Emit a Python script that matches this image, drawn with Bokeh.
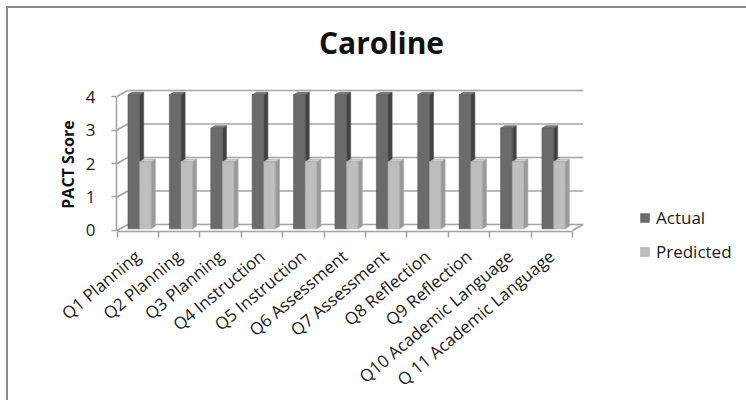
import numpy as np
from bokeh.plotting import figure
from bokeh.models import Range1d, FixedTicker, Label, Legend, LegendItem
from bokeh.embed import file_html
from bokeh.resources import INLINE

# ---------------- data ----------------
categories = ["Q1 Planning", "Q2 Planning", "Q3 Planning", "Q4 Instruction",
              "Q5 Instruction", "Q6 Assessment", "Q7 Assessment", "Q8 Reflection",
              "Q9 Reflection", "Q10 Academic Language", "Q 11 Academic Language"]
actual = [4, 4, 3, 4, 4, 4, 4, 4, 4, 3, 3]
predicted = [2, 2, 2, 2, 2, 2, 2, 2, 2, 2, 2]
y_ticks = [0, 1, 2, 3, 4]
series_names = ["Actual", "Predicted"]
title_text = "Caroline"
y_title = "PACT Score"

# ---------------- style ----------------
FONT = "Open Sans"
BAR_W = 0.28          # bar width (category units)
ACT_OFF = 0.265       # offset of first bar inside category
DEPTH_X, DEPTH_Y = 0.10, 0.075   # bar depth
WALL_X, WALL_Y = 0.26, 0.18      # chart wall depth
LIFT = 0.05
GRID = "#a3a3a3"
ACT_FRONT, ACT_SIDE, ACT_TOP, ACT_EDGE = "#6b6b6b", "#424242", "#7a7a7a", "#555555"
PRED_FRONT, PRED_SIDE, PRED_TOP, PRED_EDGE = "#bebebe", "#9a9a9a", "#cfcfcf", "#a5a5a5"

n = len(categories)
idx = np.arange(n)

p = figure(width=746, height=400, output_backend="svg", toolbar_location=None,
           x_range=Range1d(-2.814, 15.205), y_range=Range1d(-5.075, 6.866),
           min_border_left=0, min_border_right=0, min_border_top=0,
           min_border_bottom=0, outline_line_color=None,
           background_fill_color=None, border_fill_color=None)
p.xgrid.visible = False
p.ygrid.visible = False
p.styles = {"box-shadow": "inset 6px 6px 0 0 #ffffff, inset 8px 8px 0 0 #8c8c8c"}

# ---------------- walls / floor ----------------
top_tick = max(y_ticks)
p.segment(x0=[WALL_X] * len(y_ticks), y0=[k + WALL_Y for k in y_ticks],
          x1=[n + WALL_X] * len(y_ticks), y1=[k + WALL_Y for k in y_ticks],
          line_color=GRID, line_width=1.6)
p.segment(x0=[0] * len(y_ticks), y0=y_ticks,
          x1=[WALL_X] * len(y_ticks), y1=[k + WALL_Y for k in y_ticks],
          line_color=GRID, line_width=1.6)
p.segment(x0=[n], y0=[0], x1=[n + WALL_X], y1=[WALL_Y], line_color=GRID, line_width=1.6)


# ---------------- bars ----------------
def bar3d(left, vals, front, side, top, edge):
    right = left + BAR_W
    b = np.full(n, LIFT)
    t = np.asarray(vals, dtype=float) + LIFT
    xs_side = [[r, r + DEPTH_X, r + DEPTH_X, r] for r in right]
    ys_side = [[bb, bb + DEPTH_Y, tt + DEPTH_Y, tt] for bb, tt in zip(b, t)]
    p.patches(xs_side, ys_side, fill_color=side, line_color=edge, line_width=0.6)
    xs_top = [[l, l + DEPTH_X, r + DEPTH_X, r] for l, r in zip(left, right)]
    ys_top = [[tt, tt + DEPTH_Y, tt + DEPTH_Y, tt] for tt in t]
    p.patches(xs_top, ys_top, fill_color=top, line_color=edge, line_width=0.6)
    return p.quad(left=left, right=right, bottom=b, top=t,
                  fill_color=front, line_color=edge, line_width=0.6)


act_left = idx + ACT_OFF
pred_left = act_left + BAR_W
r_act = bar3d(act_left, actual, ACT_FRONT, ACT_SIDE, ACT_TOP, ACT_EDGE)
r_pred = bar3d(pred_left, predicted, PRED_FRONT, PRED_SIDE, PRED_TOP, PRED_EDGE)

# ---------------- axes ----------------
xa = p.xaxis[0]
xa.fixed_location = -0.03
xa.ticker = FixedTicker(ticks=list(idx + 0.5), minor_ticks=list(range(n + 1)))
xa.major_label_overrides = {float(i + 0.5): c for i, c in enumerate(categories)}
xa.bounds = (0, n)
xa.axis_line_color = GRID
xa.axis_line_width = 1.6
xa.major_tick_line_color = None
xa.major_tick_out = 0
xa.major_tick_in = 0
xa.minor_tick_out = 6
xa.minor_tick_in = 0
xa.minor_tick_line_color = GRID
xa.minor_tick_line_width = 1.6
xa.major_label_orientation = 0.7
xa.major_label_standoff = 16
xa.major_label_text_font = FONT
xa.major_label_text_font_size = "17px"
xa.major_label_text_color = "#1a1a1a"

ya = p.yaxis[0]
ya.fixed_location = -0.012
ya.ticker = FixedTicker(ticks=y_ticks, minor_ticks=[])
ya.bounds = (0, top_tick)
ya.axis_line_color = GRID
ya.axis_line_width = 1.6
ya.major_tick_line_color = GRID
ya.major_tick_line_width = 1.6
ya.major_tick_out = 5
ya.major_tick_in = 0
ya.major_label_standoff = 16
ya.major_label_text_font = FONT
ya.major_label_text_font_size = "17px"
ya.major_label_text_color = "#1a1a1a"

# y-axis title (placed beside the axis span)
p.add_layout(Label(x=67, y=236, x_units="screen", y_units="screen", text=y_title,
                   angle=np.pi / 2, text_align="center", text_baseline="middle",
                   text_font=FONT, text_font_style="bold", text_font_size="16px",
                   text_color="#111111"))

# ---------------- title ----------------
p.add_layout(Label(x=381, y=358, x_units="screen", y_units="screen", text=title_text,
                   text_align="center", text_baseline="alphabetic", text_font=FONT,
                   text_font_style="bold", text_font_size="30px", text_color="#111111"))

# ---------------- legend ----------------
legend = Legend(items=[LegendItem(label=series_names[0], renderers=[r_act]),
                       LegendItem(label=series_names[1], renderers=[r_pred])],
                location=(639, 137), orientation="vertical",
                glyph_width=11, glyph_height=11, label_height=22, spacing=11,
                label_standoff=6, padding=0, margin=0,
                border_line_color=None, background_fill_alpha=0,
                label_text_font=FONT, label_text_font_size="17px",
                label_text_color="#1a1a1a")
p.add_layout(legend)

open("out.html", "w").write(file_html(p, INLINE))
